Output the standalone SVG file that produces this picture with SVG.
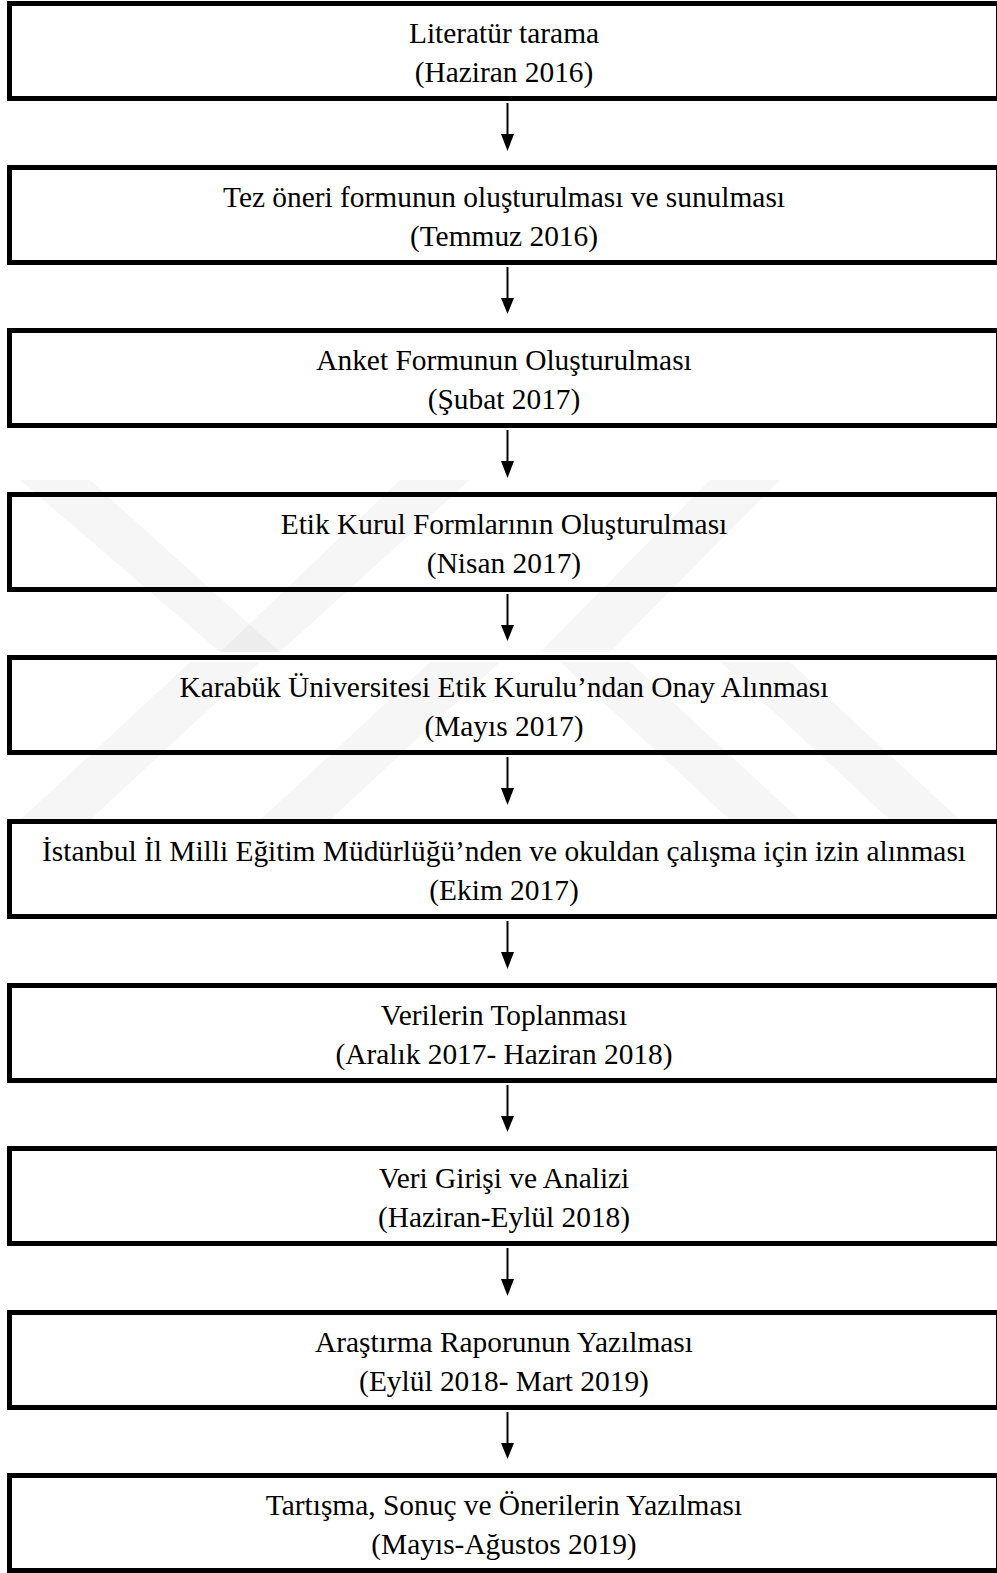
<svg xmlns="http://www.w3.org/2000/svg" width="997" height="1573" viewBox="0 0 997 1573">
<style>
.box{fill:none;stroke:#000;stroke-width:5}
.t{font-family:"Liberation Serif","Times New Roman",serif;font-size:29.4px;fill:#000;text-anchor:middle}
.wm{fill:#000;fill-opacity:0.035}
.ln{stroke:#000;stroke-width:2}
.hd{fill:#000}
</style>
<rect width="997" height="1573" fill="#fff"/>
<g id="watermark">
<polygon class="wm" points="20,480 90,480 280,652 220,652"/>
<polygon class="wm" points="220,652 280,652 470,480 400,480"/>
<polygon class="wm" points="540,652 610,652 780,480 710,480"/>
<polygon class="wm" points="20,820 90,820 260,662 190,662"/>
<polygon class="wm" points="260,820 330,820 500,662 430,662"/>
<polygon class="wm" points="560,662 630,662 800,820 730,820"/>
<polygon class="wm" points="720,662 790,662 960,820 890,820"/>
</g>
<g id="connectors">
<line class="ln" x1="507.5" y1="103" x2="507.5" y2="136"/><polygon class="hd" points="501,134 514,134 507.5,151"/>
<line class="ln" x1="507.5" y1="267" x2="507.5" y2="300"/><polygon class="hd" points="501,298 514,298 507.5,314"/>
<line class="ln" x1="507.5" y1="430" x2="507.5" y2="463"/><polygon class="hd" points="501,461 514,461 507.5,478"/>
<line class="ln" x1="507.5" y1="594" x2="507.5" y2="627"/><polygon class="hd" points="501,625 514,625 507.5,641"/>
<line class="ln" x1="507.5" y1="757" x2="507.5" y2="790"/><polygon class="hd" points="501,788 514,788 507.5,805"/>
<line class="ln" x1="507.5" y1="921" x2="507.5" y2="954"/><polygon class="hd" points="501,952 514,952 507.5,969"/>
<line class="ln" x1="507.5" y1="1085" x2="507.5" y2="1118"/><polygon class="hd" points="501,1116 514,1116 507.5,1132"/>
<line class="ln" x1="507.5" y1="1248" x2="507.5" y2="1281"/><polygon class="hd" points="501,1279 514,1279 507.5,1296"/>
<line class="ln" x1="507.5" y1="1412" x2="507.5" y2="1445"/><polygon class="hd" points="501,1443 514,1443 507.5,1459"/>
</g>
<g id="n1"><rect class="box" x="9.5" y="3.5" width="989" height="95"/><text class="t" x="504" y="43">Literatür tarama</text><text class="t" x="504" y="82">(Haziran 2016)</text></g>
<g id="n2"><rect class="box" x="9.5" y="167.5" width="989" height="95"/><text class="t" x="504" y="207">Tez öneri formunun oluşturulması ve sunulması</text><text class="t" x="504" y="246">(Temmuz 2016)</text></g>
<g id="n3"><rect class="box" x="9.5" y="330.5" width="989" height="95"/><text class="t" x="504" y="370">Anket Formunun Oluşturulması</text><text class="t" x="504" y="409">(Şubat 2017)</text></g>
<g id="n4"><rect class="box" x="9.5" y="494.5" width="989" height="95"/><text class="t" x="504" y="534">Etik Kurul Formlarının Oluşturulması</text><text class="t" x="504" y="573">(Nisan 2017)</text></g>
<g id="n5"><rect class="box" x="9.5" y="657.5" width="989" height="95"/><text class="t" x="504" y="697">Karabük Üniversitesi Etik Kurulu’ndan Onay Alınması</text><text class="t" x="504" y="736">(Mayıs 2017)</text></g>
<g id="n6"><rect class="box" x="9.5" y="821.5" width="989" height="95"/><text class="t" x="504" y="861">İstanbul İl Milli Eğitim Müdürlüğü’nden ve okuldan çalışma için izin alınması</text><text class="t" x="504" y="900">(Ekim 2017)</text></g>
<g id="n7"><rect class="box" x="9.5" y="985.5" width="989" height="95"/><text class="t" x="504" y="1025">Verilerin Toplanması</text><text class="t" x="504" y="1064">(Aralık 2017- Haziran 2018)</text></g>
<g id="n8"><rect class="box" x="9.5" y="1148.5" width="989" height="95"/><text class="t" x="504" y="1188">Veri Girişi ve Analizi</text><text class="t" x="504" y="1227">(Haziran-Eylül 2018)</text></g>
<g id="n9"><rect class="box" x="9.5" y="1312.5" width="989" height="95"/><text class="t" x="504" y="1352">Araştırma Raporunun Yazılması</text><text class="t" x="504" y="1391">(Eylül 2018- Mart 2019)</text></g>
<g id="n10"><rect class="box" x="9.5" y="1475.5" width="989" height="95"/><text class="t" x="504" y="1515">Tartışma, Sonuç ve Önerilerin Yazılması</text><text class="t" x="504" y="1554">(Mayıs-Ağustos 2019)</text></g>
</svg>
